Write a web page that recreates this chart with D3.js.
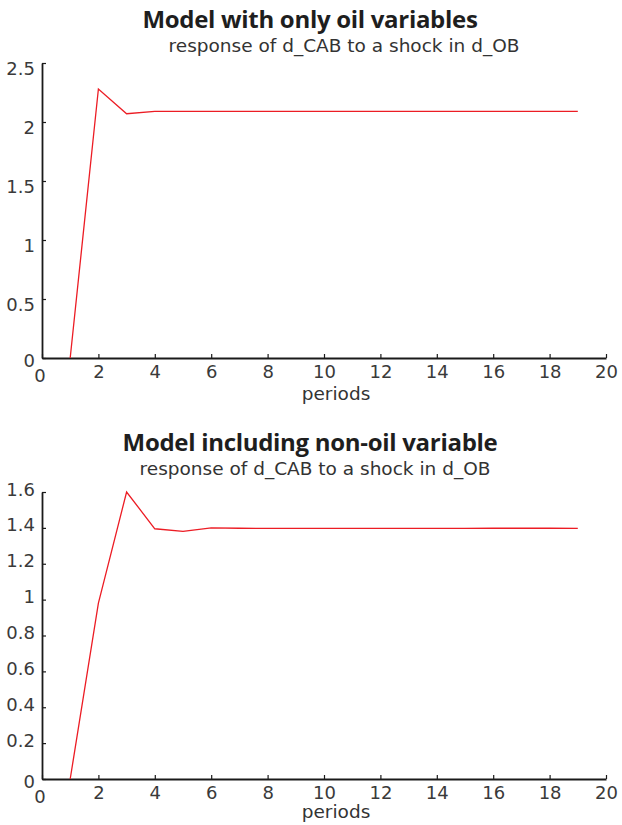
<!DOCTYPE html>
<html>
<head>
<meta charset="utf-8">
<script src="https://cdn.jsdelivr.net/npm/d3@7"></script>
<style>
  body { margin: 0; background: #fff; }
</style>
</head>
<body>
<svg id="chart" width="622" height="825"></svg>
<script>
// periods of the impulse response
var periods = [1, 2, 3, 4, 5, 6, 7, 8, 9, 10, 11, 12, 13, 14, 15, 16, 17, 18, 19];

// response of d_CAB to a shock in d_OB, oil-only model
var oilOnly = [0, 2.28, 2.07, 2.09, 2.09, 2.09, 2.09, 2.09, 2.09, 2.09, 2.09, 2.09, 2.09, 2.09, 2.09, 2.09, 2.09, 2.09, 2.09];

// same response, model including non-oil variable
var withNonOil = [0, 0.98, 1.6, 1.395, 1.38, 1.4, 1.398, 1.397, 1.397, 1.397, 1.397, 1.397, 1.397, 1.397, 1.397, 1.398, 1.398, 1.398, 1.397];

var xTicks = [0, 2, 4, 6, 8, 10, 12, 14, 16, 18, 20];
var yTicksTop = [0, 0.5, 1, 1.5, 2, 2.5];
var yTicksBottom = [0, 0.2, 0.4, 0.6, 0.8, 1, 1.2, 1.4, 1.6];

var svg = d3.select('#chart');
var labelFont = '"DejaVu Sans", Verdana, sans-serif';

function drawPanel(opts) {
  var left = 42, right = 606;
  var x = d3.scaleLinear().domain([0, 20]).range([left, right]);
  var y = d3.scaleLinear().domain([0, opts.yMax]).range([opts.bottom, opts.top]);

  var g = svg.append('g');

  g.append('text')
    .attr('x', 310).attr('y', opts.titleY)
    .attr('text-anchor', 'middle')
    .style('font-family', '"Open Sans", sans-serif')
    .style('font-size', '24px').style('font-weight', 'bold')
    .style('fill', '#1e1e1e')
    .style('letter-spacing', '-0.3px')
    .text(opts.title);

  g.append('text')
    .attr('x', opts.subX).attr('y', opts.subY)
    .attr('text-anchor', 'middle')
    .style('font-family', labelFont)
    .style('font-size', '18.5px')
    .style('fill', '#333')
    .text('response of d_CAB to a shock in d_OB');

  // x axis, ticks pointing inward
  var xAxis = d3.axisBottom(x).tickValues(xTicks).tickSizeInner(-4).tickSizeOuter(0)
    .tickFormat(function(d) { return d === 0 ? '' : d; });
  var gx = g.append('g').attr('transform', 'translate(0,' + opts.bottom + ')').call(xAxis);
  gx.select('.domain').attr('stroke', '#1a1a1a').attr('stroke-width', 1.8);
  gx.selectAll('.tick line').attr('stroke', '#1a1a1a').attr('stroke-width', 1.2);
  gx.selectAll('.tick text').attr('y', 19.5).attr('dy', null)
    .style('font-size', '18px').style('fill', '#3a3a3a').style('font-family', labelFont);

  // y axis, ticks pointing inward
  var yAxis = d3.axisLeft(y).tickValues(opts.yTicks).tickSizeInner(-4).tickSizeOuter(0)
    .tickFormat(function(d) { return d === 0 ? '' : d; });
  var gy = g.append('g').attr('transform', 'translate(' + left + ',0)').call(yAxis);
  gy.select('.domain').attr('stroke', '#1a1a1a').attr('stroke-width', 1.8);
  gy.selectAll('.tick line').attr('stroke', '#1a1a1a').attr('stroke-width', 1.2);
  gy.selectAll('.tick text').attr('x', -7).attr('dy', null).attr('y', opts.yLabelShift)
    .style('font-size', '18px').style('fill', '#3a3a3a').style('font-family', labelFont);

  // origin labels drawn separately, like the original
  g.append('text').attr('x', left - 7).attr('y', opts.bottom + 8.5)
    .attr('text-anchor', 'end')
    .style('font-size', '18px').style('fill', '#3a3a3a').style('font-family', labelFont)
    .text('0');
  g.append('text').attr('x', left - 2).attr('y', opts.bottom + 23.5)
    .attr('text-anchor', 'middle')
    .style('font-size', '18px').style('fill', '#3a3a3a').style('font-family', labelFont)
    .text('0');

  g.append('text')
    .attr('x', 336).attr('y', opts.bottom + opts.xLabelGap)
    .attr('text-anchor', 'middle')
    .style('font-size', '18.5px').style('fill', '#333').style('font-family', labelFont)
    .text('periods');

  var line = d3.line()
    .x(function(d, i) { return x(periods[i]); })
    .y(function(d) { return y(d); });

  g.append('path')
    .datum(opts.values)
    .attr('fill', 'none')
    .attr('stroke', '#ec1c24')
    .attr('stroke-width', 1.3)
    .attr('d', line);
}

drawPanel({
  title: 'Model with only oil variables',
  titleY: 28, subX: 344, subY: 52,
  top: 63, bottom: 358, yMax: 2.5, yTicks: yTicksTop,
  yLabelShift: 11, xLabelGap: 42,
  values: oilOnly
});

drawPanel({
  title: 'Model including non-oil variable',
  titleY: 451, subX: 315, subY: 475,
  top: 492, bottom: 779, yMax: 1.6, yTicks: yTicksBottom,
  yLabelShift: 3, xLabelGap: 39,
  values: withNonOil
});
</script>
</body>
</html>
